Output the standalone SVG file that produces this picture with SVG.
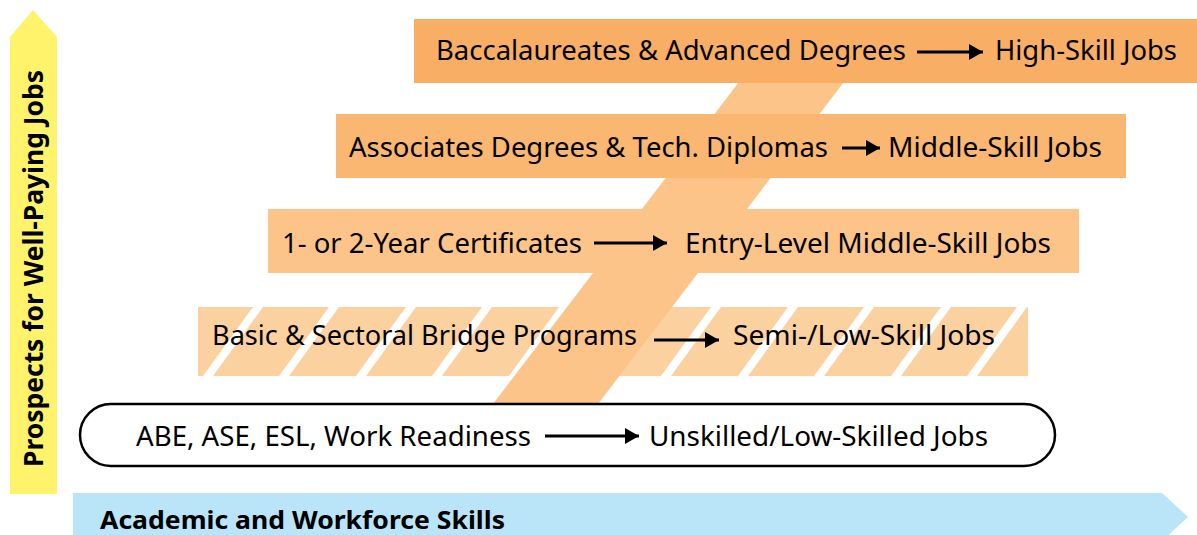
<svg xmlns="http://www.w3.org/2000/svg" width="1197" height="535" viewBox="0 0 1197 535">
<style>
.t{font-family:"Noto Sans","Open Sans",sans-serif;font-size:28px;fill:#000}
.b{font-family:"Noto Sans","Open Sans",sans-serif;font-weight:bold;fill:#000}
.arr{stroke:#000;stroke-width:3;fill:none;marker-end:url(#ah)}
.stripe{fill:#fff}
</style>
<defs>
<marker id="ah" markerUnits="userSpaceOnUse" markerWidth="16" markerHeight="18" refX="14" refY="8" orient="auto">
<path d="M0,0 L14,8 L0,16 z" fill="#000"/>
</marker>
</defs>
<rect width="1197" height="535" fill="#fff"/>

<g id="axis-y">
<polygon points="10,37 33,10 57,37 57,494 10,494" fill="#FFF36B"/>
<text class="b" font-size="27" transform="translate(43,467) rotate(-90)" textLength="397" lengthAdjust="spacingAndGlyphs">Prospects for Well-Paying Jobs</text>
</g>

<g id="axis-x">
<polygon points="73,493 1162,493 1188,517 1162,541 73,541" fill="#BAE5F9"/>
<text class="b" font-size="25" x="100" y="529" textLength="405" lengthAdjust="spacingAndGlyphs">Academic and Workforce Skills</text>
</g>

<g id="level-bridge">
<rect x="198" y="307" width="830" height="69" fill="#FCD1A0"/>
<g class="stripe">
<polygon points="253,307 263,307 213,376 203,376"/>
<polygon points="329,307 339,307 289,376 279,376"/>
<polygon points="406,307 416,307 366,376 356,376"/>
<polygon points="482,307 492,307 442,376 432,376"/>
<polygon points="559,307 569,307 519,376 509,376"/>
<polygon points="635,307 645,307 595,376 585,376"/>
<polygon points="711,307 721,307 671,376 661,376"/>
<polygon points="788,307 798,307 748,376 738,376"/>
<polygon points="864,307 874,307 824,376 814,376"/>
<polygon points="941,307 951,307 901,376 891,376"/>
<polygon points="1017,307 1027,307 977,376 967,376"/>
</g>
</g>

<g id="pathway-band">
<polygon points="493,404 598,404 847,78 742,78" fill="#FDC48A"/>
</g>

<g id="level-certificates">
<rect x="268" y="209" width="811" height="64" fill="#FDC48A"/>
</g>

<g id="level-associates">
<rect x="336" y="114" width="790" height="64" fill="#FAB771"/>
</g>

<g id="level-baccalaureate">
<rect x="414" y="19" width="783" height="64" fill="#F9AE66"/>
</g>

<g id="level-abe">
<rect x="80" y="404" width="975" height="62" rx="31" ry="31" fill="#fff" stroke="#000" stroke-width="2.5"/>
</g>

<g id="connectors">
<line class="arr" x1="917" y1="52" x2="983" y2="52"/>
<line class="arr" x1="842" y1="148" x2="880" y2="148"/>
<line class="arr" x1="594" y1="243" x2="667" y2="243"/>
<line class="arr" x1="654" y1="340" x2="719" y2="340"/>
<line class="arr" x1="545" y1="436" x2="639" y2="436"/>
</g>

<g id="labels">
<text class="t" x="436" y="60" textLength="470" lengthAdjust="spacingAndGlyphs">Baccalaureates &amp; Advanced Degrees</text>
<text class="t" x="995" y="60" textLength="182" lengthAdjust="spacingAndGlyphs">High-Skill Jobs</text>
<text class="t" x="349" y="157" textLength="479" lengthAdjust="spacingAndGlyphs">Associates Degrees &amp; Tech. Diplomas</text>
<text class="t" x="888" y="157" textLength="214" lengthAdjust="spacingAndGlyphs">Middle-Skill Jobs</text>
<text class="t" x="282" y="253" textLength="300" lengthAdjust="spacingAndGlyphs">1- or 2-Year Certificates</text>
<text class="t" x="685" y="253" textLength="366" lengthAdjust="spacingAndGlyphs">Entry-Level Middle-Skill Jobs</text>
<text class="t" x="212" y="345" textLength="425" lengthAdjust="spacingAndGlyphs">Basic &amp; Sectoral Bridge Programs</text>
<text class="t" x="733" y="345" textLength="262" lengthAdjust="spacingAndGlyphs">Semi-/Low-Skill Jobs</text>
<text class="t" x="136" y="446" textLength="395" lengthAdjust="spacingAndGlyphs">ABE, ASE, ESL, Work Readiness</text>
<text class="t" x="649" y="446" textLength="339" lengthAdjust="spacingAndGlyphs">Unskilled/Low-Skilled Jobs</text>
</g>
</svg>
